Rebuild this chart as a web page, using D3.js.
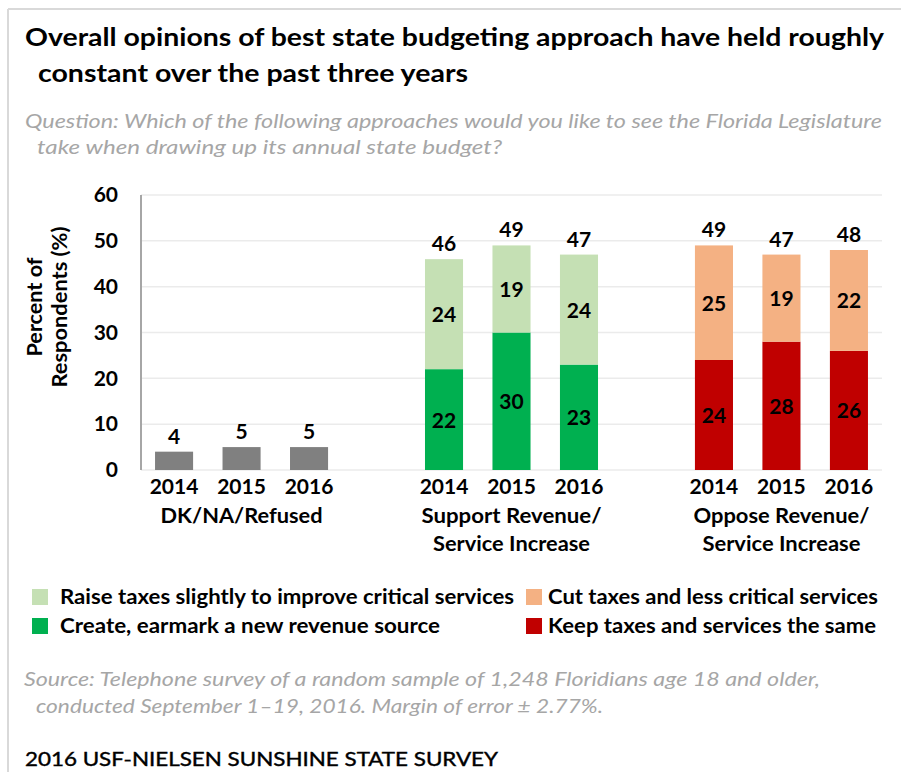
<!DOCTYPE html>
<html>
<head>
<meta charset="utf-8">
<script src="https://cdn.jsdelivr.net/npm/d3@7"></script>
<style>
  html, body { margin: 0; padding: 0; background: #fff; }
  svg { display: block; }
  text { font-family: Lato, "Open Sans", "DejaVu Sans", sans-serif; }
</style>
</head>
<body>
<svg id="chart" width="901" height="772"></svg>
<script>
// ---------- data ----------
const years = ["2014", "2015", "2016"];
const groupNames = ["DK/NA/Refused", "Support Revenue/|Service Increase", "Oppose Revenue/|Service Increase"];
const dkValues = [4, 5, 5];
const raiseTaxes = [24, 19, 24];      // Support, upper segment
const createRevenue = [22, 30, 23];   // Support, lower segment
const cutTaxes = [25, 19, 22];        // Oppose, upper segment
const keepSame = [24, 28, 26];        // Oppose, lower segment
const yTicks = [0, 10, 20, 30, 40, 50, 60];
const legendLabels = [
  "Raise taxes slightly to improve critical services",
  "Cut taxes and less critical services",
  "Create, earmark a new revenue source",
  "Keep taxes and services the same"
];

const colors = {
  dk: "#808080",
  raise: "#c5e0b4",
  create: "#00b050",
  cut: "#f4b183",
  keep: "#c00000"
};

// ---------- helpers ----------
const svg = d3.select("#chart");
function fit(sel, w) {
  sel.attr("textLength", w).attr("lengthAdjust", "spacingAndGlyphs");
  return sel;
}

// frame (top & left light border)
svg.append("line").attr("x1", 8).attr("x2", 901).attr("y1", 9).attr("y2", 9)
  .attr("stroke", "#d9d9d9").attr("stroke-width", 2);
svg.append("line").attr("x1", 8).attr("x2", 8).attr("y1", 9).attr("y2", 772)
  .attr("stroke", "#d9d9d9").attr("stroke-width", 2);

// ---------- title & subtitle ----------
fit(svg.append("text").attr("x", 25).attr("y", 46)
  .attr("font-size", 25).attr("font-weight", "bold").attr("fill", "#000")
  .text("Overall opinions of best state budgeting approach have held roughly"), 859);
fit(svg.append("text").attr("x", 38).attr("y", 82)
  .attr("font-size", 25).attr("font-weight", "bold").attr("fill", "#000")
  .text("constant over the past three years"), 430);

fit(svg.append("text").attr("x", 25).attr("y", 128)
  .attr("font-size", 20).attr("font-style", "italic").attr("fill", "#a6a6a6")
  .text("Question: Which of the following approaches would you like to see the Florida Legislature"), 857);
fit(svg.append("text").attr("x", 37).attr("y", 154)
  .attr("font-size", 20).attr("font-style", "italic").attr("fill", "#a6a6a6")
  .text("take when drawing up its annual state budget?"), 465);

// ---------- scales ----------
const groupKeys = ["dk", "support", "oppose"];
const slots = [];
groupKeys.forEach((g, gi) => {
  years.forEach(yv => slots.push(g + "|" + yv));
  if (gi < groupKeys.length - 1) slots.push("gap" + gi);
});

const x = d3.scaleBand().domain(slots).range([141, 882])
  .paddingInner(0.436).paddingOuter(0.208);
const y = d3.scaleLinear().domain([0, 60]).range([470, 195]);

// gridlines
svg.append("g").selectAll("line").data(yTicks).join("line")
  .attr("x1", 141).attr("x2", 882)
  .attr("y1", d => y(d)).attr("y2", d => y(d))
  .attr("stroke", "#ebebeb").attr("stroke-width", 1.5);

// y axis
const yAxis = d3.axisLeft(y).tickValues(yTicks).tickSize(0).tickPadding(0);
const gy = svg.append("g").attr("transform", "translate(118,0)").call(yAxis);
gy.select(".domain").remove();
gy.selectAll("text").attr("font-size", 21).attr("font-weight", "bold")
  .attr("fill", "#000").attr("font-family", "Lato, sans-serif");
svg.append("line").attr("x1", 141).attr("x2", 141).attr("y1", y(60)).attr("y2", y(0))
  .attr("stroke", "#a6a6a6").attr("stroke-width", 2);

// y axis title
const yt = svg.append("g").attr("transform", "translate(0,307) rotate(-90)");
fit(yt.append("text").attr("x", 0).attr("y", 42).attr("text-anchor", "middle")
  .attr("font-size", 20).attr("font-weight", "bold").text("Percent of"), 99);
fit(yt.append("text").attr("x", 0).attr("y", 67).attr("text-anchor", "middle")
  .attr("font-size", 20).attr("font-weight", "bold").text("Respondents (%)"), 161);

// ---------- bars ----------
const segs = [];
years.forEach((yr, i) => {
  segs.push({ key: "dk|" + yr, y0: 0, y1: dkValues[i], color: colors.dk, label: null });
  segs.push({ key: "support|" + yr, y0: 0, y1: createRevenue[i], color: colors.create, label: createRevenue[i] });
  segs.push({ key: "support|" + yr, y0: createRevenue[i], y1: createRevenue[i] + raiseTaxes[i], color: colors.raise, label: raiseTaxes[i] });
  segs.push({ key: "oppose|" + yr, y0: 0, y1: keepSame[i], color: colors.keep, label: keepSame[i] });
  segs.push({ key: "oppose|" + yr, y0: keepSame[i], y1: keepSame[i] + cutTaxes[i], color: colors.cut, label: cutTaxes[i] });
});

svg.append("g").selectAll("rect").data(segs).join("rect")
  .attr("x", d => x(d.key)).attr("width", x.bandwidth())
  .attr("y", d => y(d.y1)).attr("height", d => y(d.y0) - y(d.y1))
  .attr("fill", d => d.color);

// segment labels
svg.append("g").selectAll("text").data(segs.filter(d => d.label !== null)).join("text")
  .attr("x", d => x(d.key) + x.bandwidth() / 2)
  .attr("y", d => y((d.y0 + d.y1) / 2) + 8)
  .attr("text-anchor", "middle").attr("font-size", 21).attr("font-weight", "bold")
  .attr("fill", "#000").text(d => d.label);

// totals above bars
const totals = [];
years.forEach((yr, i) => {
  totals.push({ key: "dk|" + yr, v: dkValues[i] });
  totals.push({ key: "support|" + yr, v: createRevenue[i] + raiseTaxes[i] });
  totals.push({ key: "oppose|" + yr, v: keepSame[i] + cutTaxes[i] });
});
svg.append("g").selectAll("text").data(totals).join("text")
  .attr("x", d => x(d.key) + x.bandwidth() / 2)
  .attr("y", d => y(d.v) - 8)
  .attr("text-anchor", "middle").attr("font-size", 21).attr("font-weight", "bold")
  .attr("fill", "#000").text(d => d.v);

// year labels
const yearLabels = [];
groupKeys.forEach(g => years.forEach(yr => yearLabels.push({ key: g + "|" + yr, t: yr })));
svg.append("g").selectAll("text").data(yearLabels).join("text")
  .attr("x", d => x(d.key) + x.bandwidth() / 2).attr("y", 494)
  .attr("text-anchor", "middle").attr("font-size", 21).attr("font-weight", "bold")
  .attr("fill", "#000").text(d => d.t);

// group labels (centered on the middle year)
const groupLabelWidths = [[162], [180, 157], [176, 158]];
groupKeys.forEach((g, gi) => {
  const cx = x(g + "|" + years[1]) + x.bandwidth() / 2;
  const lines = groupNames[gi].split("|");
  lines.forEach((ln, li) => {
    fit(svg.append("text").attr("x", cx).attr("y", 523 + li * 28)
      .attr("text-anchor", "middle").attr("font-size", 20).attr("font-weight", "bold")
      .attr("fill", "#000").text(ln), groupLabelWidths[gi][li]);
  });
});

// ---------- legend ----------
const legendItems = [
  { label: legendLabels[0], color: colors.raise, sx: 32, tx: 60, y: 597, w: 454 },
  { label: legendLabels[1], color: colors.cut, sx: 526, tx: 548, y: 597, w: 330 },
  { label: legendLabels[2], color: colors.create, sx: 32, tx: 60, y: 626, w: 380 },
  { label: legendLabels[3], color: colors.keep, sx: 526, tx: 548, y: 626, w: 328 }
];
const lg = svg.append("g");
legendItems.forEach(d => {
  lg.append("rect").attr("x", d.sx).attr("y", d.y - 8).attr("width", 16).attr("height", 16)
    .attr("fill", d.color);
  fit(lg.append("text").attr("x", d.tx).attr("y", d.y + 7)
    .attr("font-size", 20).attr("font-weight", "bold").attr("fill", "#000")
    .text(d.label), d.w);
});

// ---------- source & footer ----------
fit(svg.append("text").attr("x", 24).attr("y", 686)
  .attr("font-size", 20).attr("font-style", "italic").attr("fill", "#a6a6a6")
  .text("Source: Telephone survey of a random sample of 1,248 Floridians age 18 and older,"), 796);
fit(svg.append("text").attr("x", 36).attr("y", 713)
  .attr("font-size", 20).attr("font-style", "italic").attr("fill", "#a6a6a6")
  .text("conducted September 1\u201319, 2016. Margin of error \u00b1 2.77%."), 567);

fit(svg.append("text").attr("x", 25).attr("y", 766)
  .attr("font-size", 19).attr("fill", "#000").attr("stroke", "#000").attr("stroke-width", 0.4)
  .text("2016 USF-NIELSEN SUNSHINE STATE SURVEY"), 473);
</script>
</body>
</html>
